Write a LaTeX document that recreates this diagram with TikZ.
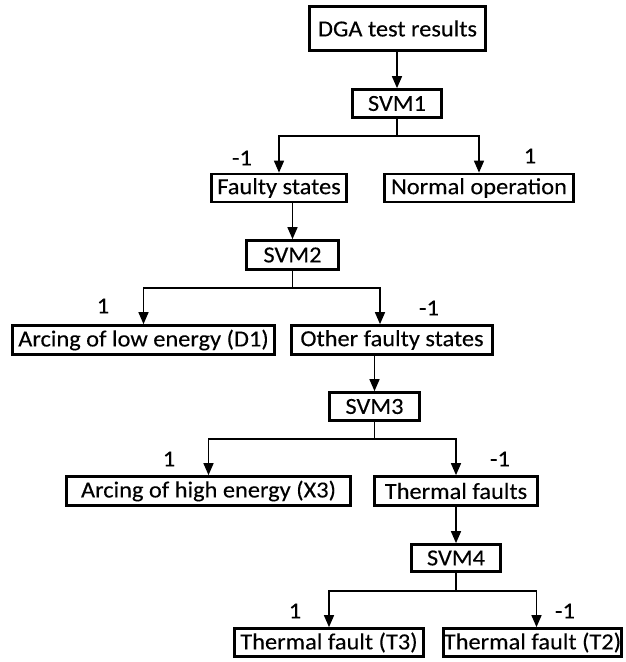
\documentclass[tikz,border=0pt]{standalone}
\usepackage{fontspec}
\setmainfont{Carlito}[FakeStretch=1.06,FakeBold=0.2]
\usetikzlibrary{arrows.meta}
\begin{document}
\begin{tikzpicture}[x=1pt,y=-1pt,
  font=\fontsize{23}{27}\selectfont,
  box/.style={draw, line width=2.7pt, inner sep=0pt, minimum height=28pt},
  link/.style={line width=1.5pt},
  arr/.style={link, -{Triangle[length=12pt,width=10pt]}},
  lab/.style={inner sep=0pt}]
\useasboundingbox (0,0) rectangle (625,662);

% classifier cascade
\node[box, minimum width=176pt, minimum height=44pt] (dga) at (397.5,28.5) {DGA test results};
\node[box, minimum width=89pt] (svm1) at (397,103.5) {SVM1};
\node[box, minimum width=135pt] (faulty) at (279,188) {Faulty states};
\node[box, minimum width=189pt] (normal) at (479,188) {Normal operation};
\node[box, minimum width=92pt, minimum height=29pt] (svm2) at (292.5,255) {SVM2};
\node[box, minimum width=262pt, minimum height=29pt] (d1) at (143.5,340) {Arcing of low energy (D1)};
\node[box, minimum width=201pt, minimum height=29pt] (other) at (392,340) {Other faulty states};
\node[box, minimum width=90pt] (svm3) at (374.5,406.5) {SVM3};
\node[box, minimum width=284pt, minimum height=29pt] (x3) at (208.5,491) {Arcing of high energy (X3)};
\node[box, minimum width=163pt, minimum height=29pt] (thermal) at (456,491) {Thermal faults};
\node[box, minimum width=89pt, minimum height=27pt] (svm4) at (456,558) {SVM4};
\node[box, minimum width=189pt] (t3) at (329,642.5) {Thermal fault (T3)};
\node[box, minimum width=178pt] (t2) at (532.5,642.5) {Thermal fault (T2)};

% single links
\draw[arr] (dga.south -| svm1.north) -- (svm1.north);
\draw[arr] (faulty.south -| svm2.north) -- (svm2.north);
\draw[arr] (other.south -| svm3.north) -- (svm3.north);
\draw[arr] (thermal.south -| svm4.north) -- (svm4.north);

% branch points
\draw[link] (svm1.south) -- ++(0,17) coordinate (b1);
\draw[link] (svm2.south) -- ++(0,17) coordinate (b2);
\draw[link] (svm3.south) -- ++(0,17) coordinate (b3);
\draw[link] (svm4.south) -- ++(0,18) coordinate (b4);

\draw[arr] (b1) -| (faulty.north);
\draw[arr] (b1) -| (normal.north);
\draw[arr] (b2) -| (d1.north);
\draw[arr] (b2) -| ([xshift=-12pt]other.north);
\draw[arr] (b3) -| (x3.north);
\draw[arr] (b3) -| (thermal.north);
\draw[arr] (b4) -| (t3.north);
\draw[arr] (b4) -| ([xshift=4pt]t2.north);

% decision labels
\node[lab] (l1a) at (242,158) {-1};
\node[lab] (l1b) at (530,156) {1};
\node[lab] (l2a) at (103,306) {1};
\node[lab] (l2b) at (429,308) {-1};
\node[lab] (l3a) at (169,459) {1};
\node[lab] (l3b) at (500,459) {-1};
\node[lab] (l4a) at (295,611) {1};
\node[lab] (l4b) at (565,611) {-1};
\end{tikzpicture}
\end{document}
